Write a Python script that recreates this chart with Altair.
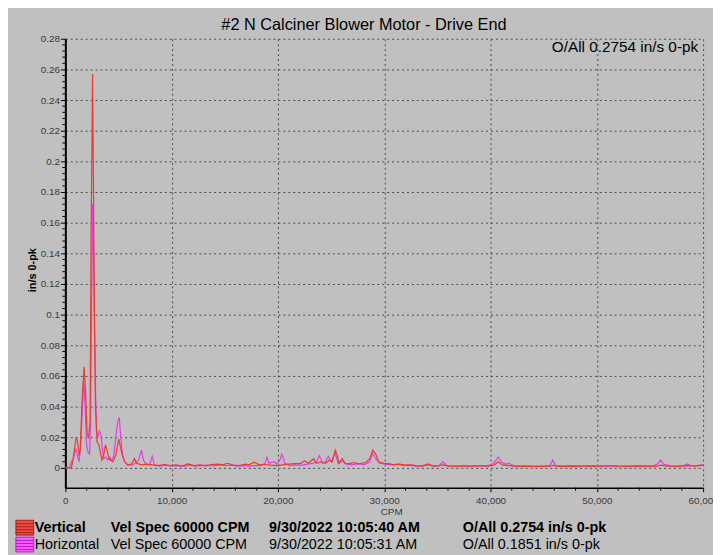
import altair as alt
import pandas as pd

TITLE = "#2 N Calciner Blower Motor - Drive End"
OALL_TEXT = "O/All 0.2754 in/s 0-pk"
Y_TITLE = "in/s 0-pk"
X_TITLE = "CPM"

# Vertical (red) spectrum: CPM and in/s 0-pk
vertical_cpm = [0, 560, 740, 1020, 1160, 1300, 1400, 1580, 1770, 1900, 2050, 2190, 2330, 2420, 2510, 2560,
                2650, 2740, 2840, 2980, 3160, 3440, 3630, 3770, 3910, 4090, 4280, 4460, 4740, 5020, 5300,
                5580, 5860, 6230, 6510, 6700, 7160, 7630, 8180, 8740, 9300, 9860, 10420, 10970, 11530,
                12090, 12650, 13210, 13760, 14320, 14790, 15250, 15810, 16370, 16930, 17300, 17760,
                18230, 18790, 19340, 19900, 20460, 21020, 21580, 22130, 22510, 22880, 23340, 23620,
                24090, 24460, 24830, 25110, 25390, 25580, 25760, 26040, 26320, 26780, 27160, 27530,
                27900, 28270, 28640, 28920, 29200, 29480, 29950, 30410, 30880, 31430, 31990, 32550,
                33110, 33670, 34130, 34600, 35150, 35530, 36080, 36830, 37570, 38320, 39060, 39800,
                40360, 40730, 41110, 41760, 42500, 43250, 44080, 44830, 45570, 45850, 46410, 47340,
                48270, 49200, 50130, 51060, 51990, 52920, 53850, 54780, 55710, 55990, 56640, 57570,
                58500, 59240, 60000]
vertical_val = [0, 0, 0.006, 0.020, 0.017, 0.008, 0.012, 0.045, 0.066, 0.050, 0.022, 0.020, 0.030, 0.150,
                0.215, 0.257, 0.180, 0.100, 0.040, 0.017, 0.015, 0.005, 0.009, 0.015, 0.012, 0.006, 0.005,
                0.004, 0.008, 0.019, 0.010, 0.004, 0.002, 0.0025, 0.006, 0.003, 0.002, 0.0025, 0.002,
                0.0015, 0.0022, 0.0015, 0.002, 0.0012, 0.0026, 0.0015, 0.002, 0.0013, 0.0022, 0.0025,
                0.002, 0.003, 0.0018, 0.0015, 0.0025, 0.002, 0.0037, 0.002, 0.0022, 0.0018, 0.0015,
                0.002, 0.0025, 0.0028, 0.003, 0.0045, 0.003, 0.006, 0.003, 0.004, 0.003, 0.005, 0.004,
                0.0116, 0.008, 0.003, 0.006, 0.003, 0.0028, 0.0035, 0.0025, 0.003, 0.0035, 0.006,
                0.0116, 0.009, 0.004, 0.003, 0.0028, 0.002, 0.0025, 0.0018, 0.002, 0.0013, 0.0012,
                0.0026, 0.0012, 0.0015, 0.002, 0.0012, 0.001, 0.0013, 0.001, 0.0015, 0.0012, 0.002,
                0.004, 0.002, 0.0015, 0.001, 0.0012, 0.0009, 0.001, 0.0011, 0.0016, 0.001, 0.0012,
                0.001, 0.0013, 0.001, 0.0014, 0.0011, 0.001, 0.0013, 0.001, 0.0011, 0.0018, 0.0012,
                0.001, 0.0015, 0.0012, 0.0018]

# Horizontal (magenta) spectrum
horizontal_cpm = [0, 370, 560, 740, 880, 1020, 1160, 1300, 1440, 1580, 1720, 1860, 2000, 2140, 2280, 2370,
                  2460, 2560, 2650, 2740, 2840, 2930, 3070, 3210, 3350, 3490, 3630, 3810, 4000, 4190,
                  4370, 4560, 4740, 4930, 5070, 5210, 5390, 5580, 5860, 6230, 6600, 6880, 7160, 7350,
                  7630, 7910, 8180, 8370, 8930, 9490, 10040, 10600, 11160, 11720, 12280, 12830, 13390,
                  13950, 14510, 15070, 15620, 16180, 16740, 17300, 17860, 18410, 18790, 18970, 19160,
                  19620, 19900, 20180, 20370, 20650, 21110, 21670, 22230, 22790, 23340, 23620, 23900,
                  24180, 24460, 24740, 25020, 25390, 25670, 26040, 26410, 26970, 27530, 28090, 28640,
                  28920, 29200, 29570, 30130, 30690, 31250, 31800, 32360, 32920, 33480, 34040, 34600,
                  35150, 35530, 35900, 36640, 37390, 38130, 38870, 39620, 40180, 40460, 40730, 41010,
                  41390, 41760, 42130, 42870, 43620, 44360, 45110, 45570, 45850, 46130, 46870, 47800,
                  48730, 49660, 50590, 51520, 52450, 53380, 54310, 55240, 55710, 55990, 56270, 56920,
                  57670, 58220, 58500, 58870, 59430, 59800, 60000]
horizontal_val = [0, 0, 0.004, 0.006, 0.010, 0.012, 0.007, 0.004, 0.015, 0.035, 0.058, 0.040, 0.015, 0.010,
                  0.009, 0.030, 0.100, 0.172, 0.140, 0.090, 0.050, 0.025, 0.020, 0.024, 0.022, 0.012,
                  0.006, 0.007, 0.005, 0.007, 0.005, 0.008, 0.020, 0.030, 0.033, 0.020, 0.008, 0.004,
                  0.002, 0.0018, 0.003, 0.005, 0.0116, 0.005, 0.002, 0.002, 0.0075, 0.002, 0.0012,
                  0.0018, 0.0012, 0.0015, 0.001, 0.0018, 0.0012, 0.0015, 0.0018, 0.0013, 0.002, 0.0015,
                  0.0018, 0.0012, 0.0015, 0.0012, 0.0015, 0.0015, 0.003, 0.007, 0.003, 0.004, 0.0025,
                  0.005, 0.009, 0.003, 0.0015, 0.002, 0.0018, 0.0025, 0.003, 0.004, 0.008, 0.003, 0.004,
                  0.0075, 0.004, 0.0095, 0.003, 0.0045, 0.0025, 0.002, 0.0028, 0.002, 0.004, 0.0095,
                  0.006, 0.003, 0.0025, 0.002, 0.0025, 0.0015, 0.0018, 0.0012, 0.0015, 0.002, 0.0012,
                  0.0015, 0.0039, 0.0015, 0.0012, 0.0015, 0.0012, 0.0015, 0.0012, 0.0025, 0.0045,
                  0.0071, 0.004, 0.0025, 0.003, 0.0015, 0.0012, 0.0014, 0.0012, 0.0013, 0.0015, 0.0052,
                  0.0015, 0.0012, 0.0014, 0.0011, 0.0013, 0.0011, 0.0013, 0.0012, 0.0011, 0.0013,
                  0.0012, 0.0025, 0.0051, 0.0025, 0.0013, 0.0012, 0.0015, 0.0026, 0.0014, 0.0015,
                  0.002, 0.0015]

y_ticks = [0, 0.02, 0.04, 0.06, 0.08, 0.1, 0.12, 0.14, 0.16, 0.18, 0.2, 0.22, 0.24, 0.26, 0.28]
x_ticks = [0, 10000, 20000, 30000, 40000, 50000, 60000]
y_minor = [round(i * 0.004, 3) for i in range(0, 71) if i % 5 != 0]
x_minor = [i * 2000 for i in range(0, 31) if i % 5 != 0]

legend_names = ["Vertical", "Horizontal"]
legend_specs = ["Vel Spec 60000 CPM", "Vel Spec 60000 CPM"]
legend_dates = ["9/30/2022 10:05:40 AM", "9/30/2022 10:05:31 AM"]
legend_oall = ["O/All 0.2754 in/s 0-pk", "O/All 0.1851 in/s 0-pk"]

RED = "#ec3a2c"
MAG = "#e23fe6"
FONT = "Liberation Sans"
W, H = 645, 454

xs = alt.Scale(domain=[0, 60000], nice=False, zero=False)
ys = alt.Scale(domain=[-0.0129, 0.28], nice=False, zero=False)

x_axis = alt.Axis(values=x_ticks, labelExpr="format(datum.value, ',')", grid=True, gridDash=[2, 3],
                  gridColor="#4a4a4a", gridWidth=1, domainColor="black", domainWidth=1.5,
                  tickColor="black", tickSize=4, labelFontSize=10, labelColor="#3a3a3a", labelFont=FONT,
                  labelPadding=4, labelFlush=False, labelOverlap=False, title=None)
y_axis = alt.Axis(values=y_ticks, labelExpr="format(datum.value, '~g')", grid=True, gridDash=[2, 3],
                  gridColor="#4a4a4a", gridWidth=1, domainColor="black", domainWidth=2,
                  tickColor="black", tickSize=5, labelFontSize=10, labelColor="#3a3a3a", labelFont=FONT,
                  labelPadding=1, labelFlush=False, labelOverlap=False, title=None)

df_v = pd.DataFrame({"cpm": vertical_cpm, "val": vertical_val})
df_h = pd.DataFrame({"cpm": horizontal_cpm, "val": horizontal_val})

line_h = alt.Chart(df_h).mark_line(color=MAG, strokeWidth=1.2).encode(
    x=alt.X("cpm:Q", scale=xs, axis=x_axis),
    y=alt.Y("val:Q", scale=ys, axis=y_axis),
)
line_v = alt.Chart(df_v).mark_line(color=RED, strokeWidth=1.2).encode(
    x=alt.X("cpm:Q", scale=xs, axis=x_axis),
    y=alt.Y("val:Q", scale=ys, axis=y_axis),
)

ymin = alt.Chart(pd.DataFrame({"v": y_minor})).mark_rule(color="black", strokeWidth=1).encode(
    y=alt.Y("v:Q", scale=ys, axis=y_axis), x=alt.value(-3), x2=alt.value(0))
xmin = alt.Chart(pd.DataFrame({"v": x_minor})).mark_rule(color="black", strokeWidth=1).encode(
    x=alt.X("v:Q", scale=xs, axis=x_axis), y=alt.value(H), y2=alt.value(H + 3))


def label(text, x, y, size=13, weight="normal", align="left", angle=0, color="black"):
    return alt.Chart(alt.Data(values=[{"t": text}])).mark_text(
        text=text, font=FONT, fontSize=size, fontWeight=weight, align=align,
        baseline="middle", angle=angle, color=color
    ).encode(x=alt.value(x), y=alt.value(y))


def swatch(y0, fill, dark):
    layers = [alt.Chart(alt.Data(values=[{}])).mark_rect(fill=fill, stroke=dark, strokeWidth=1).encode(
        x=alt.value(-50), x2=alt.value(-32), y=alt.value(y0), y2=alt.value(y0 + 15))]
    for k in range(1, 5):
        layers.append(alt.Chart(alt.Data(values=[{}])).mark_rule(color=dark, strokeWidth=1).encode(
            x=alt.value(-50), x2=alt.value(-32), y=alt.value(y0 + 3 * k + 0.5)))
    return layers


texts = [
    label(TITLE, 302, -14, size=16.5, align="center"),
    label(OALL_TEXT, 640, 8, size=15.5, align="right"),
    label(Y_TITLE, -33, 234, size=11, weight="bold", angle=270, align="center"),
    label(X_TITLE, 330, 479, size=10, color="#3a3a3a", align="center"),
]
row_y = [495, 512]
col_x = [-31, 46, 206, 402]
for i in range(2):
    w = "bold" if i == 0 else "normal"
    texts.append(label(legend_names[i], col_x[0], row_y[i], size=14.5, weight=w))
    texts.append(label(legend_specs[i], col_x[1], row_y[i], size=14.5, weight=w))
    texts.append(label(legend_dates[i], col_x[2], row_y[i], size=14.5, weight=w))
    texts.append(label(legend_oall[i], col_x[3], row_y[i], size=14.5, weight=w))

sw = swatch(487, "#ee4a44", "#a8201c") + swatch(504, "#ff55ff", "#b020c0")

chart = alt.layer(line_h, line_v, ymin, xmin, *texts, *sw).properties(
    width=W, height=H,
    background="#c0c0c0",
    padding={"left": 58, "top": 28, "right": 10, "bottom": 65},
    autosize=alt.AutoSizeParams(type="none"),
).configure_view(strokeWidth=0)

chart.save("out.html", embed_options={"renderer": "svg", "actions": False})
